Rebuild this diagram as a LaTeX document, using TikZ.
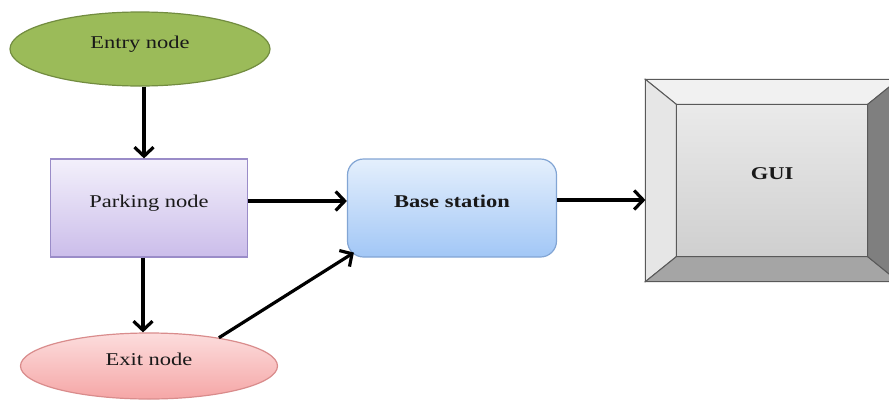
\documentclass[tikz,border=0pt]{standalone}
\usepackage{fontspec}
\setmainfont{Liberation Serif}[FakeStretch=1.25]
\usetikzlibrary{arrows.meta,shapes.geometric,positioning}
\definecolor{entryfill}{HTML}{9BBB59}
\definecolor{entryline}{HTML}{728C40}
\definecolor{parktop}{HTML}{F3F0FB}
\definecolor{parkbot}{HTML}{CBBDEA}
\definecolor{parkline}{HTML}{9A8CC8}
\definecolor{basetop}{HTML}{E4EFFC}
\definecolor{basebot}{HTML}{A2C7F6}
\definecolor{baseline}{HTML}{82A5D4}
\definecolor{exittop}{HTML}{FCDDDD}
\definecolor{exitbot}{HTML}{F5A6A6}
\definecolor{exitline}{HTML}{D98C8C}
\definecolor{guitop}{HTML}{F1F1F1}
\definecolor{guileft}{HTML}{E6E6E6}
\definecolor{guibot}{HTML}{A5A5A5}
\definecolor{guiright}{HTML}{7F7F7F}
\definecolor{guiin1}{HTML}{EAEAEA}
\definecolor{guiin2}{HTML}{CFCFCF}
\tikzset{
  basic/.style  = {draw, font=\fontsize{18}{20}\selectfont, text=black!90,
                   inner sep=0pt, text height=12pt, text depth=14pt, line width=1.2pt},
  entry/.style  = {basic, ellipse, minimum width=260pt, minimum height=74pt,
                   fill=entryfill, draw=entryline},
  parking/.style = {basic, rectangle, minimum width=197pt, minimum height=98pt,
                   top color=parktop, bottom color=parkbot, draw=parkline},
  exit/.style   = {basic, ellipse, minimum width=257pt, minimum height=66pt,
                   top color=exittop, bottom color=exitbot, draw=exitline},
  station/.style = {basic, rectangle, rounded corners=16pt, minimum width=209pt,
                   minimum height=98pt, top color=basetop, bottom color=basebot,
                   draw=baseline, font=\fontsize{18}{20}\selectfont\bfseries},
  guibox/.style = {draw=black!70, line width=1.2pt, minimum width=252pt,
                   minimum height=201pt, inner sep=0pt},
  bevel/.style  = {draw=black!65, line width=1pt},
  link/.style   = {->, line width=3.2pt}
}

\begin{document}
\begin{tikzpicture}[x=1pt, y=-1pt,
  >={Straight Barb[length=9pt,width=19pt]}]

\useasboundingbox (0,0) rectangle (889,402);

% the nodes of the car park
\node[entry] (entry) at (140,49) {Entry node};
\node[parking, below of = entry, node distance=159pt, xshift=9pt] (parking) {Parking node};
\node[exit, below of = parking, node distance=158pt] (exit) {Exit node};
\node[station, right of = parking, node distance=303pt] (base) {Base station};

% the GUI, a bevelled box
\node[guibox, right of = base, node distance=320pt, yshift=27.5pt] (gui) {};
\coordinate (gin-nw) at ([shift={(31pt,-25pt)}]gui.north west);
\coordinate (gin-ne) at ([shift={(-31pt,-25pt)}]gui.north east);
\coordinate (gin-se) at ([shift={(-31pt,25pt)}]gui.south east);
\coordinate (gin-sw) at ([shift={(31pt,25pt)}]gui.south west);
\filldraw[bevel, fill=guitop] (gui.north west) -- (gui.north east) -- (gin-ne) -- (gin-nw) -- cycle;
\filldraw[bevel, fill=guileft] (gui.north west) -- (gin-nw) -- (gin-sw) -- (gui.south west) -- cycle;
\filldraw[bevel, fill=guibot] (gui.south west) -- (gin-sw) -- (gin-se) -- (gui.south east) -- cycle;
\filldraw[bevel, fill=guiright] (gui.north east) -- (gin-ne) -- (gin-se) -- (gui.south east) -- cycle;
\draw[bevel, top color=guiin1, bottom color=guiin2] (gin-nw) rectangle (gin-se);
\node[basic, draw=none, font=\fontsize{18}{20}\selectfont\bfseries] (gui label) at (gui) {GUI};

% connectors
\draw[link] ([xshift=4pt]entry.south) -- ([xshift=4pt]entry.south |- parking.north);
\draw[link] ([xshift=-6pt]parking.south) -- ([xshift=-6pt]parking.south |- exit.north);
\draw[link] ([yshift=7pt]parking.east) -- ([yshift=7pt]base.west);
\draw[link] (exit.22) -- ([shift={(7pt,5pt)}]base.south west);
\draw[link] ([yshift=8pt]base.east) -- ([yshift=8pt]base.east -| gui.west);
\end{tikzpicture}
\end{document}
